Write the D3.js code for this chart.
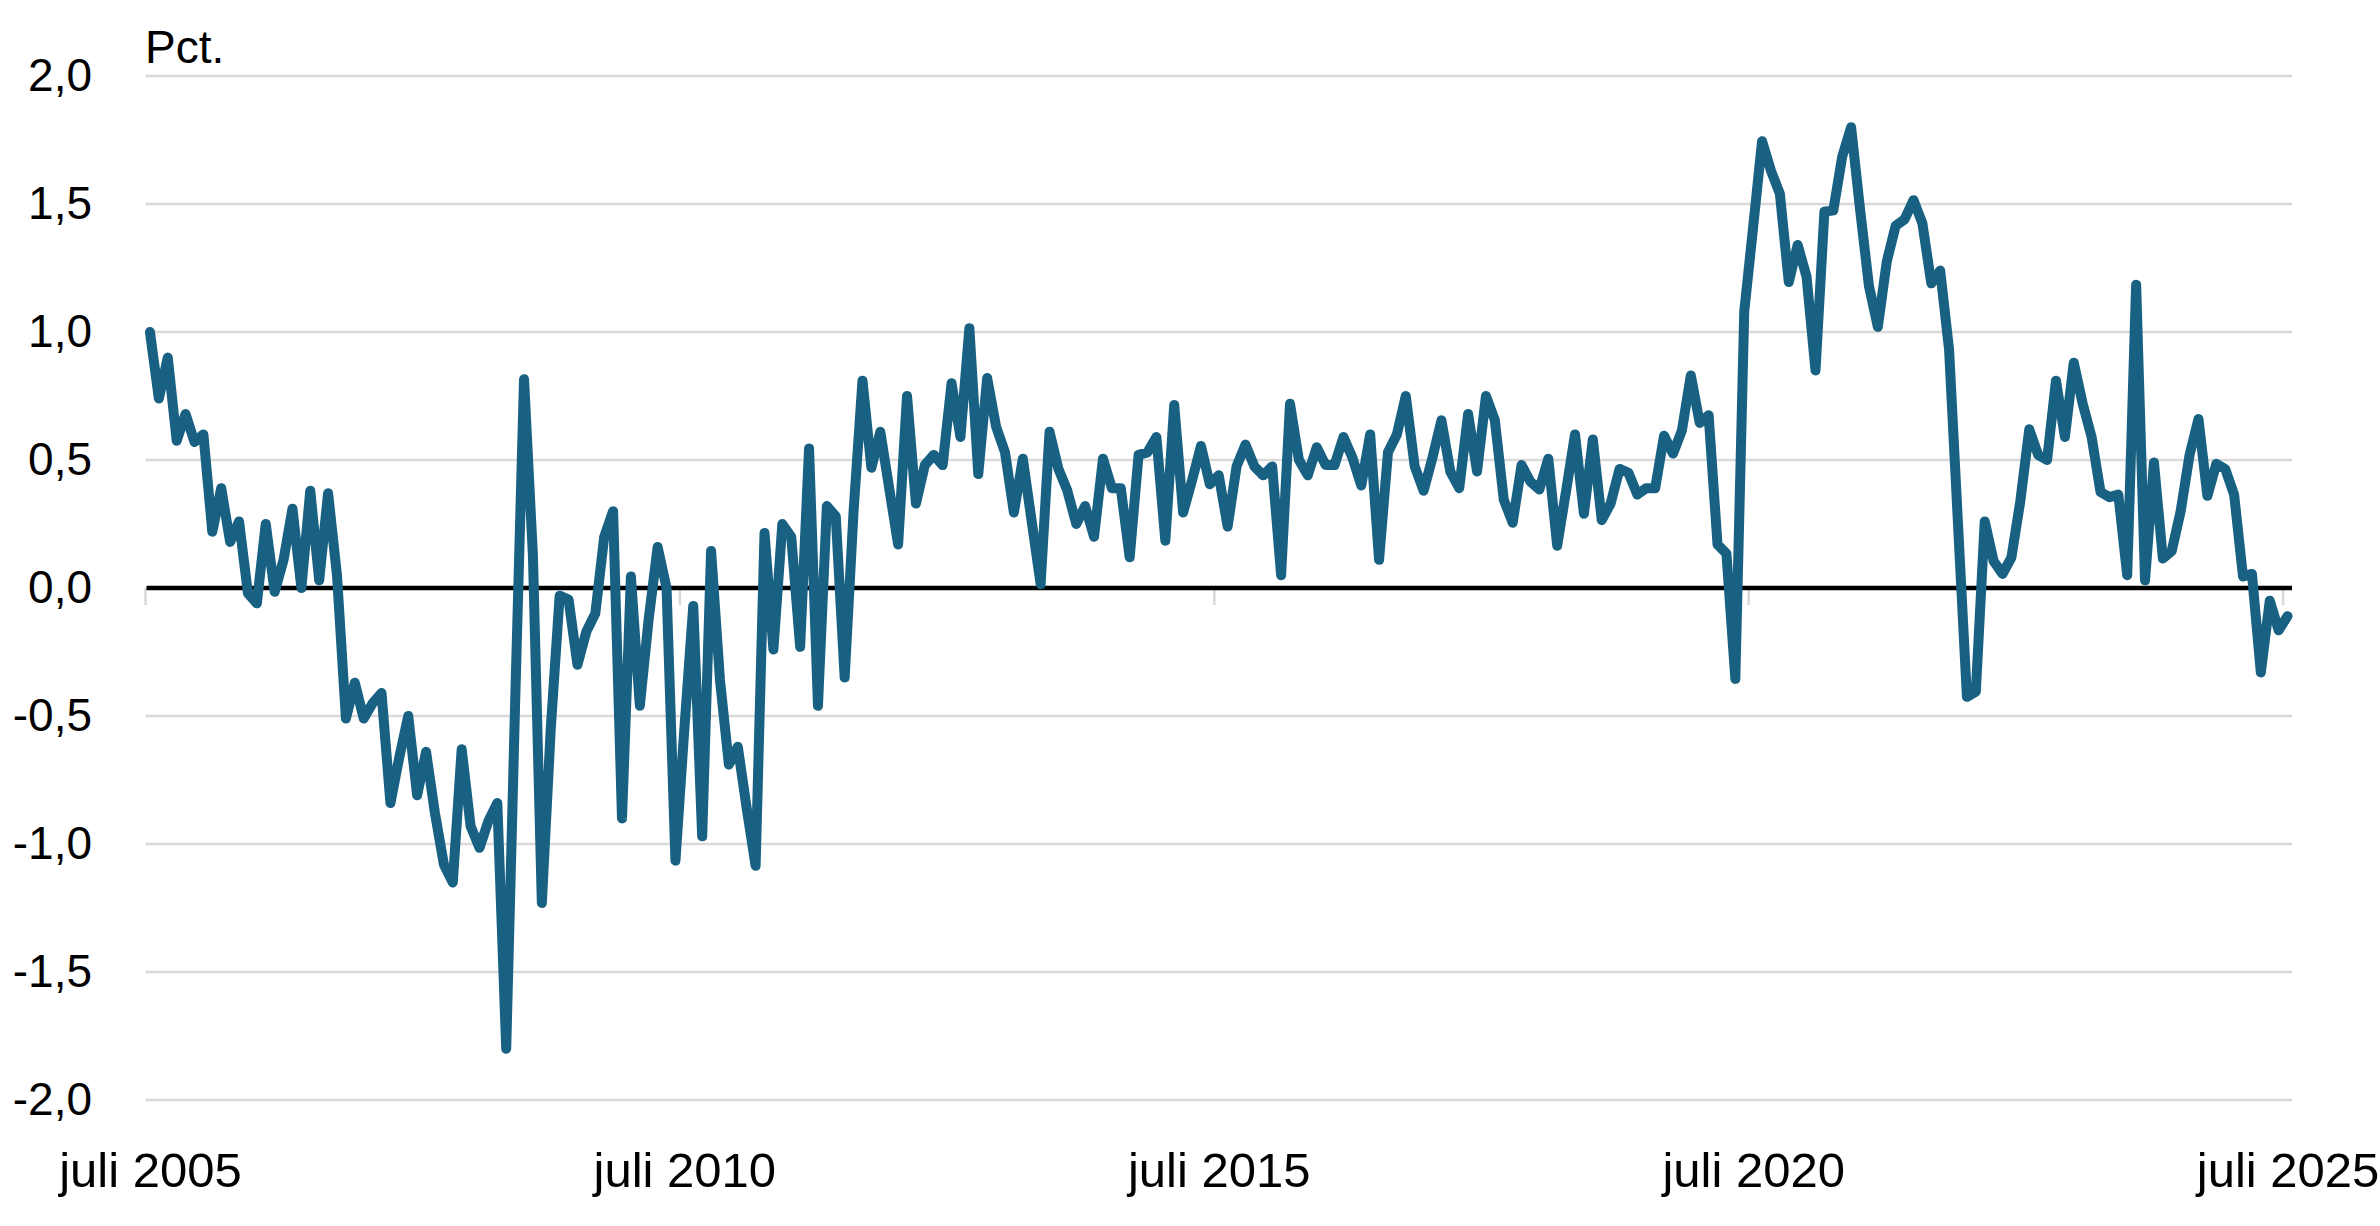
<!DOCTYPE html>
<html>
<head>
<meta charset="utf-8">
<script src="https://cdn.jsdelivr.net/npm/d3@7"></script>
<style>
  html, body { margin: 0; padding: 0; background: #ffffff; }
  svg { display: block; }
  text { font-family: "Liberation Sans", Arial, sans-serif; fill: #000; }
</style>
</head>
<body>
<svg id="chart" width="2380" height="1226"></svg>
<script>
// ---- DATA ----
const startMonth = "2005-07";               // first observation (juli 2005)
const yTicks = [-2, -1.5, -1, -0.5, 0, 0.5, 1, 1.5, 2];
const xTickIdx = [0, 60, 120, 180, 240];
const xTickLabels = ["juli 2005", "juli 2010", "juli 2015", "juli 2020", "juli 2025"];
const yUnit = "Pct.";
// monthly values, juli 2005 – juli 2025 (pct.)
const values = [
  1.00, 0.74, 0.90, 0.575, 0.68, 0.57, 0.60, 0.22, 0.39, 0.18,
  0.26, -0.02, -0.06, 0.25, -0.015, 0.11, 0.31, 0.00, 0.38, 0.03,
  0.37, 0.05, -0.51, -0.37, -0.51, -0.45, -0.41, -0.84, -0.66, -0.50,
  -0.81, -0.64, -0.88, -1.08, -1.15, -0.63, -0.93, -1.015, -0.91, -0.84,
  -1.80, -0.45, 0.815, 0.125, -1.23, -0.55, -0.03, -0.045, -0.30, -0.17,
  -0.10, 0.20, 0.30, -0.90, 0.045, -0.46, -0.12, 0.16, 0.00, -1.065,
  -0.55, -0.07, -0.97, 0.145, -0.36, -0.69, -0.62, -0.86, -1.085, 0.215,
  -0.24, 0.25, 0.20, -0.23, 0.545, -0.46, 0.32, 0.28, -0.35, 0.30,
  0.81, 0.47, 0.61, 0.39, 0.17, 0.75, 0.33, 0.48, 0.52, 0.48,
  0.80, 0.59, 1.015, 0.445, 0.82, 0.63, 0.53, 0.295, 0.505, 0.26,
  0.015, 0.61, 0.465, 0.38, 0.25, 0.32, 0.20, 0.505, 0.39, 0.39,
  0.12, 0.52, 0.53, 0.59, 0.185, 0.715, 0.295, 0.42, 0.555, 0.405,
  0.44, 0.24, 0.475, 0.56, 0.475, 0.44, 0.475, 0.05, 0.72, 0.50,
  0.44, 0.55, 0.48, 0.48, 0.59, 0.51, 0.40, 0.60, 0.11, 0.53,
  0.60, 0.75, 0.475, 0.38, 0.51, 0.655, 0.455, 0.39, 0.68, 0.455,
  0.75, 0.655, 0.345, 0.255, 0.48, 0.415, 0.385, 0.505, 0.165, 0.38,
  0.60, 0.29, 0.58, 0.265, 0.33, 0.465, 0.45, 0.365, 0.39, 0.39,
  0.595, 0.525, 0.615, 0.83, 0.645, 0.675, 0.17, 0.135, -0.355, 1.08,
  1.41, 1.745, 1.63, 1.54, 1.195, 1.34, 1.215, 0.85, 1.47, 1.475,
  1.685, 1.80, 1.48, 1.18, 1.02, 1.275, 1.415, 1.44, 1.515, 1.425,
  1.19, 1.24, 0.93, 0.25, -0.425, -0.405, 0.26, 0.105, 0.055, 0.12,
  0.34, 0.62, 0.52, 0.50, 0.81, 0.59, 0.88, 0.72, 0.59, 0.375,
  0.355, 0.365, 0.05, 1.185, 0.03, 0.49, 0.115, 0.145, 0.30, 0.52,
  0.66, 0.36, 0.485, 0.465, 0.365, 0.045, 0.055, -0.33, -0.05, -0.165,
  -0.11
];

// ---- CHART ----
const svg = d3.select("#chart");
const plotLeft = 145.5, plotRight = 2292, plotTop = 76, plotBottom = 1100;

const idx = d3.range(values.length);
const x = d3.scalePoint().domain(idx).range([plotLeft, plotRight]).padding(0.5);
const step = x.step();
const y = d3.scaleLinear().domain([-2, 2]).range([plotBottom, plotTop]);

const loc = d3.formatLocale({decimal: ",", thousands: ".", grouping: [3], currency: ["", ""], minus: "-"});
const fmt = loc.format(".1f");

// gridlines
svg.append("g").selectAll("line")
  .data(yTicks.filter(d => d !== 0))
  .join("line")
  .attr("x1", plotLeft).attr("x2", plotRight)
  .attr("y1", d => y(d)).attr("y2", d => y(d))
  .attr("stroke", "#d9d9d9").attr("stroke-width", 2.5);

// category tick marks (at category boundaries)
svg.append("g").selectAll("line")
  .data(xTickIdx)
  .join("line")
  .attr("x1", d => x(d) - step / 2).attr("x2", d => x(d) - step / 2)
  .attr("y1", y(0)).attr("y2", y(0) + 17)
  .attr("stroke", "#d9d9d9").attr("stroke-width", 2.5);

// y axis labels
const yAxis = d3.axisLeft(y).tickValues(yTicks).tickSize(0).tickPadding(0).tickFormat(fmt);
const gy = svg.append("g").attr("transform", "translate(92,0)").call(yAxis);
gy.select(".domain").remove();
gy.selectAll("text").attr("font-size", 46).attr("font-family", "Liberation Sans, Arial, sans-serif").attr("fill", "#000");

// x axis labels
const xAxis = d3.axisBottom(x).tickValues(xTickIdx).tickSize(0).tickPadding(0)
  .tickFormat((d, i) => xTickLabels[i]);
const gx = svg.append("g").attr("transform", "translate(0,1152)").call(xAxis);
gx.select(".domain").remove();
gx.selectAll("text").attr("font-size", 49).attr("font-family", "Liberation Sans, Arial, sans-serif")
  .attr("fill", "#000").attr("dy", "0.71em");

// zero line
svg.append("line")
  .attr("x1", plotLeft + 1).attr("x2", plotRight)
  .attr("y1", y(0)).attr("y2", y(0))
  .attr("stroke", "#000").attr("stroke-width", 4.5);

// series
const line = d3.line().x((d, i) => x(i)).y(d => y(d));
svg.append("path")
  .datum(values)
  .attr("d", line)
  .attr("fill", "none")
  .attr("stroke", "#186182")
  .attr("stroke-width", 10)
  .attr("stroke-linejoin", "round")
  .attr("stroke-linecap", "round");

// unit label
svg.append("text")
  .attr("x", 145).attr("y", 63)
  .attr("font-size", 46)
  .text(yUnit);
</script>
</body>
</html>
